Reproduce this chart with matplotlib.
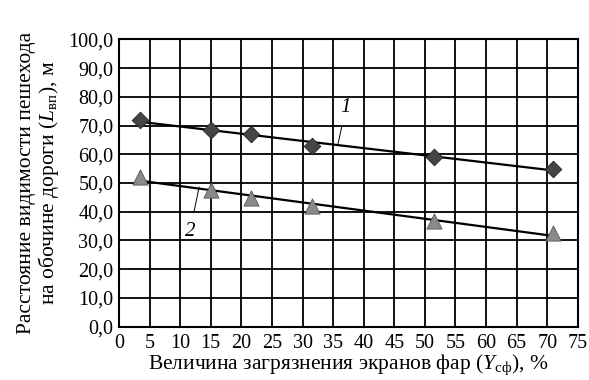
import matplotlib.pyplot as plt
import numpy as np

plt.rcParams['font.family'] = ['Liberation Serif', 'DejaVu Serif']
plt.rcParams['mathtext.fontset'] = 'custom'
plt.rcParams['mathtext.rm'] = 'Liberation Serif'
plt.rcParams['mathtext.it'] = 'Liberation Serif:italic'

# headlamp lens contamination, %
x1 = [3.5, 15, 21.5, 31.5, 51.5, 71]
y1 = [72.0, 68.3, 67.0, 63.0, 59.0, 55.0]
x2 = [3.5, 15, 21.5, 31.5, 51.5, 71]
y2 = [52.0, 47.6, 44.7, 42.0, 36.6, 32.5]

xticks = np.arange(0, 76, 5)
yticks = np.arange(0, 101, 10)

fig = plt.figure(figsize=(5.89, 3.8), dpi=100)
ax = fig.add_axes([0.202, 0.1405, 0.779, 0.756])

ax.set_xlim(0, 75)
ax.set_ylim(0, 100)
ax.set_xticks(xticks)
ax.set_yticks(yticks)
ax.set_xticklabels([str(t) for t in xticks])
ax.set_yticklabels([f'{t:.1f}'.replace('.', ',') for t in yticks])
ax.tick_params(length=0, labelsize=14.5, pad=5, colors='black')
ax.tick_params(axis='y', pad=4)
ax.grid(True, color='black', linewidth=1.3)
ax.set_axisbelow(True)
for s in ax.spines.values():
    s.set_linewidth(1.5)

# linear trend lines
for xs, ys in [(x1, y1), (x2, y2)]:
    k, b = np.polyfit(xs, ys, 1)
    xx = np.array([xs[0], xs[-1]])
    ax.plot(xx, k * xx + b, color='black', lw=1.6, zorder=3)

ax.scatter(x1, y1, marker='D', s=72, color='#454545', edgecolor='#222222',
           linewidth=0.6, zorder=4, clip_on=False)
ax.scatter(x2, y2, marker='^', s=120, color='#8a8a8a', edgecolor='#555555',
           linewidth=0.6, zorder=4, clip_on=False)

ax.annotate('1', xy=(35.8, 63.6), xytext=(37.1, 76.2), fontsize=15, style='italic',
            ha='center', va='center',
            arrowprops=dict(arrowstyle='-', lw=0.7, color='black', shrinkA=5, shrinkB=0))
ax.annotate('2', xy=(13.1, 48.6), xytext=(11.6, 33.0), fontsize=15, style='italic',
            ha='center', va='center',
            arrowprops=dict(arrowstyle='-', lw=0.7, color='black', shrinkA=5, shrinkB=0))

ax.set_xlabel(r'Величина загрязнения экранов фар ($\mathit{Y}_{\mathrm{сф}}$), %',
              fontsize=15.5, labelpad=0)
ax.set_ylabel('Расстояние видимости пешехода\n'
              r'на обочине дороги ($\mathit{L}_{\mathrm{вп}}$), м',
              fontsize=15.5, labelpad=5, linespacing=1.0)

fig.savefig('out.png', dpi=100)
